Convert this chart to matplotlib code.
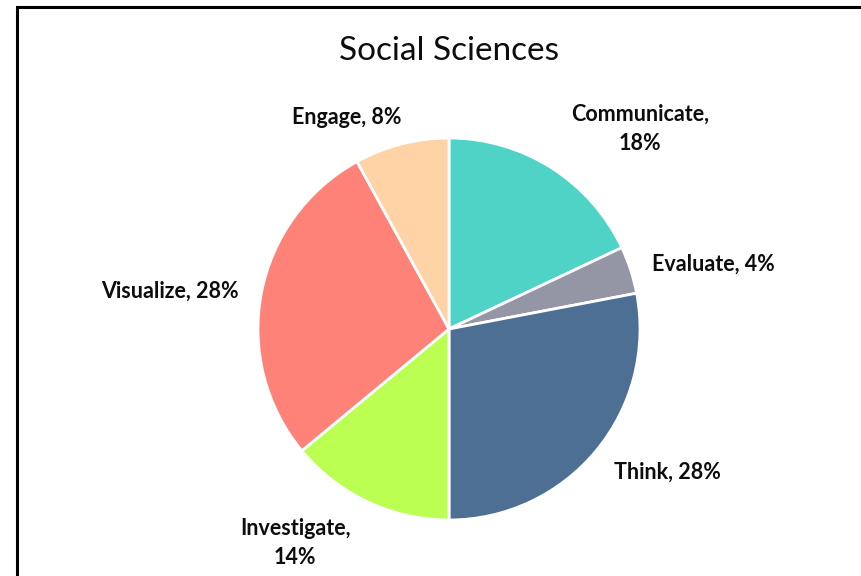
import matplotlib
matplotlib.use("Agg")
import matplotlib.pyplot as plt
from matplotlib.patches import Rectangle

# ---------- DATA ----------
categories = ["Communicate", "Evaluate", "Think", "Investigate", "Visualize", "Engage"]
shares = [18, 4, 28, 14, 28, 8]
colors = ["#4ED3C6", "#9495A5", "#4C6F93", "#BAFF52", "#FF8278", "#FFD3A5"]
label_text = ["Communicate,\n18%", "Evaluate, 4%", "Think, 28%",
              "Investigate,\n14%", "Visualize, 28%", "Engage, 8%"]

# label centres in pixels (layout only)
label_px = [(640, 129), (713, 264), (667, 472), (295, 543), (170, 291), (347, 118)]

W, H = 861, 576
cx, cy, r = 449, 329, 191

plt.rcParams["font.family"] = ["Lato", "DejaVu Sans"]
fig = plt.figure(figsize=(W / 100, H / 100), dpi=100)
ax = fig.add_axes([(cx - r) / W, (H - cy - r) / H, 2 * r / W, 2 * r / H])

ax.pie(shares, colors=colors, startangle=90, counterclock=False,
       wedgeprops=dict(edgecolor="white", linewidth=2.0))
ax.set_xlim(-1, 1)
ax.set_ylim(-1, 1)
ax.set_aspect("equal")
ax.axis("off")

for txt, (px, py) in zip(label_text, label_px):
    ax.text((px - cx) / r, (cy - py) / r, txt, ha="center", va="center",
            fontsize=15.5, fontweight="bold", color="#0d0d0d",
            linespacing=1.45, clip_on=False)

fig.text(449 / W, 1 - 51 / H, "Social Sciences", ha="center", va="center",
         fontsize=24, color="#0d0d0d")

# chart border (only left and top are visible in the crop)
fig.patches.append(Rectangle((16.5 / W, -0.1), 1.2, 1 - 6.5 / H + 0.1,
                             transform=fig.transFigure, fill=False,
                             edgecolor="black", linewidth=2.2))

fig.savefig("out.png", dpi=100)
